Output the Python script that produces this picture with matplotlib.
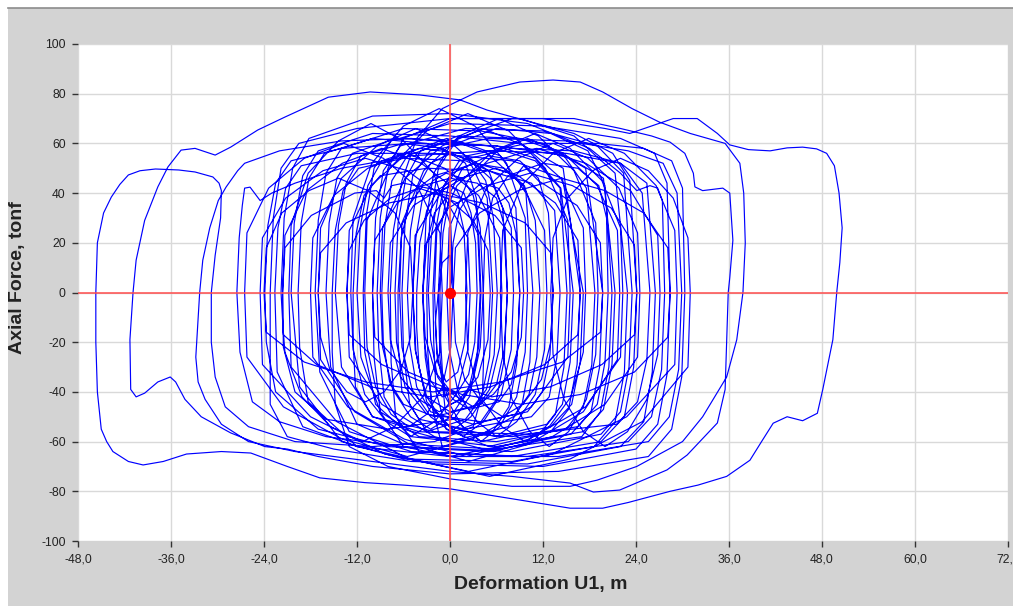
import matplotlib
matplotlib.use('Agg')
import matplotlib.pyplot as plt
from matplotlib.patches import Rectangle
from matplotlib.lines import Line2D

plt.rcParams['font.family'] = ['Liberation Sans', 'DejaVu Sans']

# --------------------------------
# Datos (deformacion U1 [m], fuerza axial [tonf])
# --------------------------------
x_ticks = [-48, -36, -24, -12, 0, 12, 24, 36, 48, 60, 72]
y_ticks = [-100, -80, -60, -40, -20, 0, 20, 40, 60, 80, 100]

# ciclos iniciales, pequenos, cerca del origen
seg_inicio = [
    (0, 0), (0.4, 20), (1.2, 33), (2.6, 40), (4, 44), (6.2, 42), (7.6, 36), (8.5, 24), (9, 0),
    (8.7, -24), (7.9, -37), (6.3, -44), (2.5, -47), (0.4, -43), (-1.6, -34), (-2.5, -19),
    (-2.8, 0), (-2.4, 23), (-1.5, 39), (0.3, 48), (3, 52), (7, 50), (9.6, 43), (11, 29), (11.6, 0),
    (11.2, -26), (10.2, -41), (8.4, -49), (3, -53), (-2.5, -48), (-4.3, -38), (-5.2, -21),
    (-5.5, 0), (-5.1, 25), (-4.2, 42), (-2.5, 52), (0, 56), (2.8, 53), (4.6, 45), (5.6, 30), (6.1, 0),
    (5.7, -25), (4.7, -39), (3, -46), (-2, -50), (-6, -45), (-7.8, -36), (-8.6, -20),
    (-8.8, 0), (-8.4, 27), (-7.5, 45), (-5.5, 55), (-1, 60), (6, 59), (11, 54), (14.3, 42), (15.9, 0),
    (15.5, -28), (14.5, -45), (12.5, -53), (6, -58), (0, -54), (-3, -44), (-4.4, -24),
    (-4.8, 0), (-4.4, 22), (-3.6, 37), (-2.2, 45), (-0.5, 48), (1.6, 46), (3, 39), (3.9, 26), (4.3, 0),
    (3.9, -22), (3, -35), (1.6, -43), (0, -45), (-0.9, -36), (-1.2, -20),
    (-1.3, 0), (-0.9, 24), (0, 40), (1.6, 50), (5, 55), (9, 53), (11.4, 46), (12.7, 32), (13.3, 0),
    (12.9, -25), (11.9, -40), (10, -48), (4, -52), (-3, -49), (-5.8, -38), (-6.9, -20),
    (-7.1, 0), (-6.7, 28), (-5.7, 46), (-3.8, 57), (1, 63), (9, 62), (14.5, 56), (17.6, 42), (18.7, 0),
    (18.3, -29), (17.2, -46), (15, -55), (6, -60), (-4, -58), (-9, -48), (-11.5, -26),
    (-12, 0), (-11.6, 26), (-10.6, 43), (-8.8, 53), (-4, 58), (1.5, 56), (5, 49), (6.8, 34), (7.4, 0),
    (7, -27), (6, -43), (4, -52), (0.5, -56), (-2.2, -47), (-3.2, -26),
    (-3.5, 0), (-3.1, 29), (-2.1, 48), (0, 59), (6, 66), (13, 64), (17.8, 57), (20, 43), (20.9, 0),
    (20.5, -30), (19.4, -48), (17, -58), (6, -63), (-6, -61), (-12, -53), (-15.4, -30),
    (-16, 0), (-15.6, 28), (-14.6, 46), (-12.6, 56), (-7, 62), (1, 61), (6.5, 55), (9.8, 40), (10.7, 0),
    (10.3, -28), (9.3, -45), (7.5, -54), (0, -60), (-6, -55), (-8.5, -42), (-9.2, -22),
    (-9.4, 0), (-9, 30), (-8, 50), (-6, 62), (0, 70), (9, 70), (16, 63), (21.3, 48), (22.9, 0),
    (22.5, -32), (21.3, -52), (18.6, -62), (8, -68), (-6, -67), (-14, -60), (-19.4, -38),
    (-20.5, 0), (-20.1, 28), (-19, 47), (-17, 57), (-10, 64), (0, 63), (9, 60), (14.6, 50), (16.8, 0),
    (16.4, -29), (15.3, -47), (13, -56), (5, -62), (-0.5, -55), (-1.8, -40), (-2.1, -20),
    (-2.2, 0), (-1.8, 26), (-0.8, 43), (1.2, 53), (8, 58), (16, 57), (22, 52), (24.8, 40), (25.8, 0),
    (25.4, -27), (24.2, -44), (21.5, -53), (10, -57), (-2, -56), (-10, -50), (-14, -30),
    (-14.8, 0), (-14.4, 27), (-13.4, 44), (-11.5, 55), (-6, 60), (-1, 58), (2, 52), (3.4, 38), (3.9, 0),
    (3.5, -26), (2.5, -42), (0.5, -51), (-8, -55), (-16, -51), (-20, -40), (-21.5, -22),
]

# ciclos estrechos que se cruzan en la zona central
seg_denso = [
    (-21.6, 0), (-21.3, 23), (-18.5, 41), (-13.9, 52), (-8.8, 58), (-3.7, 52), (0.9, 41), (3.7, 23), (4, 0),
    (3.7, -22), (2.4, -39), (0.1, -50), (-2.5, -55), (-5.1, -50), (-7.4, -39), (-8.7, -22),
    (-9, 0), (-8.7, 26), (-5.8, 46), (-1, 59), (4.3, 66), (9.6, 59), (14.3, 46), (17.2, 26), (17.5, 0),
    (17.2, -24), (15.6, -42), (12.8, -54), (9.7, -60), (6.7, -54), (3.9, -42), (2.3, -24),
    (2, 0), (2.3, 24), (4.7, 42), (8.8, 54), (13.3, 60), (17.8, 54), (21.8, 42), (24.2, 24), (24.5, 0),
    (24.2, -26), (20, -45), (13.2, -58), (5.6, -64), (-2, -58), (-8.8, -45), (-13, -26),
    (-13.3, 0), (-13, 25), (-10.2, 43), (-5.6, 56), (-0.4, 62), (4.8, 56), (9.4, 43), (12.2, 25), (12.5, 0),
    (12.2, -23), (11, -41), (8.6, -52), (6, -58), (3.5, -52), (1.1, -41), (-0.1, -23),
    (-0.4, 0), (-0.1, 26), (2.3, 45), (6.4, 58), (11, 64), (15.5, 58), (19.6, 45), (22, 26), (22.3, 0),
    (22, -26), (17.5, -46), (10.2, -59), (2.1, -66), (-5.9, -59), (-13.2, -46), (-17.7, -26),
    (-18, 0), (-17.7, 22), (-15, 39), (-10.6, 50), (-5.6, 56), (-0.7, 50), (3.7, 39), (6.4, 22), (6.7, 0),
    (6.4, -22), (5.1, -39), (2.7, -50), (0.1, -56), (-2.5, -50), (-4.9, -39), (-6.2, -22),
    (-6.5, 0), (-6.2, 28), (-3.4, 49), (1.2, 63), (6.3, 70), (11.4, 63), (16, 49), (18.8, 28), (19.1, 0),
    (18.8, -25), (17.6, -43), (15.3, -56), (12.8, -62), (10.3, -56), (8, -43), (6.8, -25),
    (6.5, 0), (6.8, 25), (9.2, 43), (13.3, 56), (17.9, 62), (22.5, 56), (26.6, 43), (29, 25), (29.3, 0),
    (29, -29), (22.8, -50), (13.2, -65), (2.4, -72), (-8.4, -65), (-18, -50), (-24.2, -29),
    (-24.5, 0), (-24.2, 22), (-21.2, 38), (-16.4, 49), (-10.9, 54), (-5.5, 49), (-0.7, 38), (2.3, 22), (2.6, 0),
    (2.3, -23), (0.8, -41), (-2, -52), (-5.1, -58), (-8.2, -52), (-11, -41), (-12.5, -23),
    (-12.8, 0), (-12.5, 30), (-10.1, 52), (-6, 67), (-1.4, 74), (3.2, 67), (7.3, 52), (9.7, 30), (10, 0),
    (9.7, -24), (8.6, -42), (6.4, -54), (4, -60), (1.6, -54), (-0.6, -42), (-1.7, -24),
    (-2, 0), (-1.7, 25), (0.9, 43), (5.2, 56), (10, 62), (14.7, 56), (19, 43), (21.6, 25), (21.9, 0),
    (21.6, -27), (17.2, -48), (10.2, -61), (2.4, -68), (-5.3, -61), (-12.3, -48), (-16.7, -27),
    (-17, 0), (-16.7, 26), (-14, 46), (-9.4, 59), (-4.4, 66), (0.6, 59), (5.2, 46), (7.9, 26), (8.2, 0),
    (7.9, -23), (6.6, -41), (4.3, -52), (1.7, -58), (-0.9, -52), (-3.2, -41), (-4.5, -23),
    (-4.8, 0), (-4.5, 23), (-1, 41), (4.8, 52), (11.2, 58), (17.5, 52), (23.3, 41), (26.8, 23), (27.1, 0),
    (26.8, -25), (25.4, -43), (22.9, -56), (20, -62), (17.2, -56), (14.7, -43), (13.3, -25),
    (13, 0), (13.3, 22), (15.2, 38), (18.4, 49), (22, 54), (25.6, 49), (28.8, 38), (30.7, 22), (31, 0),
    (30.7, -30), (24.8, -52), (15.5, -67), (5.1, -74), (-5.3, -67), (-14.6, -52), (-20.5, -30),
    (-20.8, 0), (-20.5, 27), (-18.3, 48), (-14.4, 61), (-10.2, 68), (-6, 61), (-2.1, 48), (0.1, 27), (0.4, 0),
    (0.1, -22), (-1, -38), (-3, -49), (-5.3, -54), (-7.6, -49), (-9.6, -38), (-10.7, -22),
    (-11, 0), (-10.7, 29), (-7.8, 50), (-3, 65), (2.3, 72), (7.6, 65), (12.3, 50), (15.2, 29), (15.5, 0),
    (15.2, -26), (10.5, -46), (2.9, -59), (-5.5, -66), (-13.9, -59), (-21.5, -46), (-26.2, -26),
    (-26.5, 0), (-26.2, 24), (-23.4, 42), (-18.8, 54), (-13.7, 60), (-8.6, 54), (-4.1, 42), (-1.3, 24), (-1, 0),
    (-1.3, -24), (-3.5, -42), (-7.2, -54), (-11.3, -60), (-15.4, -54), (-19.1, -42), (-21.3, -24), (-21.6, -12),
]

# ciclos de menor fuerza (40-50 tonf), con pequenas irregularidades
seg_bajo = [
    (-21.6, 0), (-21.3, 18), (-17.9, 31), (-12.3, 40), (-9.5, 41), (-8.5, 38), (-7.5, 43), (-6, 44),
    (0.2, 40), (5.8, 31), (9.2, 18), (9.5, 0),
    (9.2, -18), (7.9, -32), (5.6, -41), (3, -46), (0.4, -41), (-1.9, -32), (-3.2, -18),
    (-3.5, 0), (-3.2, 19), (-0.2, 34), (4.8, 43), (10.3, 48), (15.8, 43), (20.8, 34), (23.8, 19), (24.1, 0),
    (23.8, -17), (19.6, -29), (12.9, -38), (5.4, -42), (2.5, -39), (1.5, -44), (0.5, -40), (-2.1, -38),
    (-8.8, -29), (-13, -17),
    (-13.3, 0), (-13, 17), (-11.1, 29), (-7.7, 38), (-4, 42), (-0.3, 38), (3, 29), (4.9, 17), (5.2, 0),
    (4.9, -19), (3.6, -34), (1.2, -43), (-1.4, -48), (-4, -43), (-6.4, -34), (-7.7, -19),
    (-8, 0), (-7.7, 20), (-4.7, 35), (0.3, 45), (5.9, 50), (8.5, 47), (9.5, 51), (11.4, 45), (16.4, 35),
    (19.4, 20), (19.7, 0),
    (19.4, -16), (14.5, -28), (6.6, -36), (-2.2, -40), (-10.9, -36), (-18.8, -28), (-23.7, -16),
    (-24, 0), (-23.7, 18), (-21.7, 32), (-18.2, 41), (-14.4, 46), (-10.6, 41), (-7.1, 32), (-5.1, 18), (-4.8, 0),
    (-5.1, -18), (-6.3, -31), (-8.5, -40), (-10.9, -44), (-13.3, -40), (-15.5, -31), (-16.7, -18),
    (-17, 0), (-16.7, 16), (-13.4, 28), (-7.9, 36), (-1.8, 40), (4.2, 36), (9.7, 28), (13, 16), (13.3, 0),
    (13, -20), (11.8, -35), (9.4, -45), (6.8, -50), (4.3, -45), (1.9, -35), (0.7, -20),
    (0.4, 0), (0.7, 18), (3.8, 32), (8.8, 41), (14.4, 46), (20, 41), (25, 32), (28.1, 18), (28.4, 0),
    (28.1, -18), (23.8, -32), (16.9, -41), (9.2, -45), (1.5, -41), (-5.4, -32), (-9.7, -18),
    (-10, 0), (-9.7, 21), (-6.8, 36), (-2, 47), (3.4, 52), (8.8, 47), (13.6, 36), (16.5, 21), (16.8, 0),
    (16.5, -17), (12.2, -29), (5.2, -38), (-2.5, -42), (-10.2, -38), (-17.2, -29), (-21.5, -17),
]

# ciclos medios
seg_medio = [
    (-21.8, 0), (-21.4, 30), (-20.3, 50), (-18.2, 62), (-10, 71), (0, 72), (10, 68), (18, 58), (22, 48),
    (24.1, 41), (25.8, 43), (26.8, 42), (27.4, 37), (27.7, 0),
    (27.3, -31), (26, -50), (23, -60), (10, -66), (-5, -64), (-13, -56), (-16.8, -32),
    (-17.4, 0), (-17, 29), (-16, 48), (-14, 58), (-6, 66), (4, 65), (12, 60), (17.5, 50), (19.7, 0),
    (19.3, -30), (18.2, -48), (15.6, -57), (5, -64), (-8, -62), (-17, -55), (-22.5, -40), (-23.7, -20),
    (-23.9, 0), (-23.5, 27), (-22.5, 44), (-20.5, 53), (-14, 58), (-5, 60), (6, 59), (15, 55), (19.8, 46), (21.3, 0),
    (20.9, -29), (19.8, -47), (17.2, -56), (6, -62), (-5, -58), (-9.6, -45), (-11, -24),
    (-11.2, 0), (-10.8, 31), (-9.8, 50), (-7.6, 61), (0, 68), (12, 67), (22, 62), (26.4, 56), (28, 44), (28.4, 0),
    (28, -33), (26.8, -53), (24, -63), (12, -70), (-2, -69), (-12, -62), (-18.3, -44), (-19.4, -22),
    (-19.6, 0), (-19.2, 28), (-18.2, 46), (-16.2, 56), (-10, 62), (-3, 60), (2.5, 53), (4.8, 38), (5.5, 0),
    (5.1, -26), (4.1, -42), (2, -51), (-3, -56), (-5.2, -45), (-6, -24),
    (-6.2, 0), (-5.8, 28), (-4.8, 47), (-2.6, 57), (5, 62), (15, 61), (23, 57), (27.5, 52), (29.3, 40), (29.9, 0),
    (29.5, -31), (28.3, -50), (25.6, -60), (14, -66), (0, -66), (-12, -62), (-19, -54), (-22.3, -32),
    (-22.6, 0), (-22.2, 26), (-21.2, 42), (-19.2, 51), (-12, 56), (-2, 56), (8, 53), (14.5, 46), (17.2, 0),
    (16.8, -28), (15.7, -45), (13, -54), (4, -60), (-0.6, -48), (-1.3, -26),
    (-1.5, 0), (-1.1, 27), (-0.1, 45), (2.2, 55), (10, 60), (19, 60), (25, 58), (28.6, 53), (30, 42), (30.3, 0),
    (29.9, -34), (28.6, -55), (25.6, -66), (14, -72), (0, -73), (-10, -70), (-17, -66), (-21, -63), (-23.9, -62),
]

# lazo hacia la izquierda (-41) y lazo de fuerza maxima (85 tonf)
seg_pico = [
    (-28.3, -56.5), (-32.1, -50), (-34.2, -43), (-35.4, -36), (-36.1, -34), (-37.7, -36), (-39.4, -40.5),
    (-40.5, -42), (-41.2, -39), (-41.3, -19), (-40.9, 0), (-40.5, 13), (-39.4, 29), (-37.7, 42.5),
    (-36.4, 50.5), (-34.7, 57.3), (-32.9, 58), (-30.3, 55.3), (-28.3, 58.5), (-24.8, 65.4), (-21.3, 70.6),
    (-15.7, 78.6), (-10.3, 80.7), (-3.9, 79.5), (1.3, 77.5), (4.8, 73.4), (10, 69), (16, 64), (21, 56),
    (23.2, 45), (24.1, 0), (23.7, -30), (22.5, -50), (19.5, -60), (8, -66), (-4, -64), (-7, -50), (-7.6, -28),
    (-7.7, 0), (-7.3, 25), (-6.2, 45), (-4.3, 62), (-1, 74), (3.5, 80.7), (9, 84.7), (13.3, 85.5), (16.8, 84.7),
    (19.7, 80.7), (23.5, 74), (27, 68.6), (31, 64), (35.5, 60), (37.4, 52), (37.9, 40), (38.1, 20), (37.8, 0),
    (37, -19), (35.7, -34), (32.6, -50), (30, -60), (24.1, -70), (19, -75.5), (15.5, -78), (8, -78), (0, -75),
    (-8, -70), (-13, -62), (-14.8, -45), (-15.2, -24),
    (-15.2, 0), (-14.8, 25), (-13.8, 41), (-11.8, 50), (-6, 54), (2, 53), (6.5, 47), (8.5, 34), (9, 0),
    (8.6, -29), (7.6, -46), (5.5, -56), (-1, -62), (-2.4, -45), (-2.9, -22),
    (-3, 0), (-2.6, 30), (-1.5, 50), (1, 62), (8, 70), (16, 70), (22, 66), (26, 63), (28.4, 60.5), (30.3, 56),
    (31.4, 48), (31.6, 42.5), (32.6, 41), (35.2, 42), (36.1, 40), (36.5, 21), (36.1, 6), (35.9, 0),
    (35.5, -39), (34.5, -52.5), (30.6, -65.4), (28, -71.4), (21.9, -79.5), (18.5, -80.3), (15.5, -76.7),
    (8, -74), (0, -72), (-10, -68), (-20, -64), (-26, -60), (-29.5, -53), (-31.6, -43), (-32.5, -36), (-32.8, -26),
    (-32.3, 0), (-31.9, 13), (-31, 26), (-29.9, 37), (-28.9, 42.4), (-27.4, 49), (-26.5, 52), (-22, 57),
    (-14, 61), (-5, 62), (5, 59), (11, 53), (14.2, 42), (15.1, 0),
    (14.7, -30), (13.6, -49), (11, -59), (0, -66), (-6, -62), (-9, -48), (-9.8, -26),
    (-10, 0), (-9.6, 30), (-8.6, 49), (-6.4, 59), (2, 66), (12, 65), (19, 59), (22.4, 48), (23.5, 0),
    (23.1, -30), (22, -48), (19.5, -57), (8, -64), (-6, -62), (-16, -58), (-22, -52), (-25.5, -44), (-27.1, -24),
    (-27.5, 0), (-27.2, 22), (-26.8, 35), (-26.5, 42), (-25.8, 42.4), (-24.5, 37), (-23, 40), (-20, 44),
    (-14, 50), (-5, 55), (5, 57), (15, 56), (22, 52), (25.4, 44), (26.5, 0),
    (26.1, -32), (25, -52), (22, -62), (10, -69), (-5, -68), (-15, -63), (-21, -58), (-23.2, -45), (-23.2, -22),
]

# excursion maxima: +50 m a la derecha y -46 m a la izquierda
seg_extremo = [
    (-23.2, 0), (-22.8, 30), (-21.8, 50), (-19.5, 60), (-12, 66), (0, 70), (12, 70), (20, 66), (23.2, 64),
    (26, 67), (28.8, 70), (31.9, 70), (34.5, 64), (36.1, 59.4), (38.5, 57.5), (41.3, 57), (43.5, 58.2),
    (45.5, 58.5), (47.3, 57.8), (48.6, 56), (49.6, 51), (50.2, 40), (50.6, 26), (50.3, 12), (49.9, 0),
    (49.4, -19), (48.1, -39), (47.4, -48.6), (45.5, -51.6), (43.5, -50), (41.7, -52.6), (40.2, -60),
    (38.7, -67.5), (35.7, -74), (32, -77.5), (28.4, -80), (23, -84.5), (19.7, -86.8), (15.5, -86.8),
    (8, -83), (0, -79), (-6, -77.5), (-11, -76.5), (-16.8, -74.6), (-21, -70), (-25.7, -64.6), (-29.5, -64),
    (-34, -65), (-37, -68), (-39.6, -69.4), (-41.5, -68), (-43.5, -64), (-44.3, -60), (-45, -55), (-45.5, -40),
    (-45.7, -20), (-45.7, 0), (-45.5, 20), (-44.7, 32), (-43.7, 38.4), (-42.6, 43.5), (-41.5, 47.3), (-40, 49),
    (-38, 49.7), (-35, 49.3), (-32.9, 48.5), (-30.6, 46.5), (-29.8, 44), (-29.5, 41), (-29.6, 30), (-30.3, 15),
    (-30.8, 0), (-30.8, -20), (-30.3, -34), (-29, -46), (-26, -54), (-20, -60), (-10, -62), (-2, -60), (3, -54),
    (4.2, -40), (4.4, -20), (4.3, 0),
]

# ciclos finales, decrecientes hasta el origen
seg_final = [
    (4.5, 22), (5.5, 38), (7.5, 47), (12, 52), (16.5, 50), (19.2, 43), (20.2, 30), (20.4, 0),
    (20, -28), (19, -45), (16.5, -54), (8, -58), (-4, -56), (-10, -50), (-12.2, -38), (-12.5, -20),
    (-12.5, 0), (-12.1, 24), (-11.1, 39), (-9, 47), (-3, 50), (5, 49), (10.5, 44), (13.5, 33), (14.2, 0),
    (13.8, -26), (12.8, -42), (10.5, -50), (2, -55), (-4, -51), (-6.2, -40), (-6.7, -20),
    (-6.7, 0), (-6.3, 22), (-5.3, 35), (-3.5, 43), (0, 46), (3.5, 44), (6, 38), (7.1, 26), (7.4, 0),
    (7, -23), (6, -37), (4, -45), (0, -48), (-3, -42), (-4, -30), (-4.3, -14),
    (-4.3, 0), (-3.9, 20), (-3, 33), (-1.8, 40), (0, 43), (1.8, 40), (2.7, 32), (3.3, 20), (3.5, 0),
    (3.2, -20), (2.4, -33), (1, -40), (-1, -42), (-2.6, -35), (-3.3, -20), (-3.5, 0), (-3, 20), (-2, 32),
    (-0.5, 38), (1, 36), (1.8, 25), (2.2, 0), (1.9, -20), (1, -32), (-0.5, -36), (-1.6, -28), (-1.9, -12),
    (-1.5, 0), (-1, 12), (0, 15), (0.3, 8), (0, 0),
]

traza = seg_inicio + seg_denso + seg_bajo + seg_medio + seg_pico + seg_extremo + seg_final
u1 = [p[0] for p in traza]
fuerza = [p[1] for p in traza]

# --------------------------------
# Grafico
# --------------------------------
W, H = 1013, 608
fig = plt.figure(figsize=(W / 100, H / 100), dpi=100)
fig.patch.set_facecolor('white')
# marco gris de la ventana (detras de los ejes)
fig.patches.append(Rectangle((8 / W, 2 / H), 1 - 8 / W, 1 - 10 / H, transform=fig.transFigure,
                             facecolor='#d3d3d3', edgecolor='none', zorder=-10))
fig.add_artist(Line2D([8 / W, 1], [1 - 7.5 / H, 1 - 7.5 / H], color='#8c8c8c', lw=1.2, zorder=-5))

ax = fig.add_axes([78 / W, 67 / H, 930 / W, 497 / H])
ax.set_zorder(1)
ax.set_facecolor('white')
ax.plot(u1, fuerza, color='#0000ff', lw=0.85, zorder=2)
ax.axhline(0, color='#ff4d4d', lw=1.1, zorder=3)
ax.axvline(0, color='#ff4d4d', lw=1.1, zorder=3)
ax.plot([0], [0], 'o', color='#ff0000', ms=7, zorder=4)

ax.set_xlim(-48, 72)
ax.set_ylim(-100, 100)
ax.set_xticks(x_ticks)
ax.set_xticklabels([f"{v:.1f}".replace('.', ',') for v in x_ticks])
ax.set_yticks(y_ticks)
ax.set_yticklabels([str(v) for v in y_ticks])
ax.grid(True, color='#d9d9d9', lw=1.0, zorder=0)
ax.set_axisbelow(True)
for s in ax.spines.values():
    s.set_visible(False)
ax.tick_params(direction='out', length=4.5, width=1, color='#333333', labelsize=8.7,
               labelcolor='#222222', pad=4.3)

fig.text(541 / W, 1 - 585 / H, 'Deformation U1, m', ha='center', va='center',
         fontsize=14, fontweight='bold', color='#222222')
fig.text(18 / W, 1 - 278 / H, 'Axial Force, tonf', ha='center', va='center', rotation=90,
         fontsize=14, fontweight='bold', color='#222222')

fig.savefig('out.png', dpi=100)
